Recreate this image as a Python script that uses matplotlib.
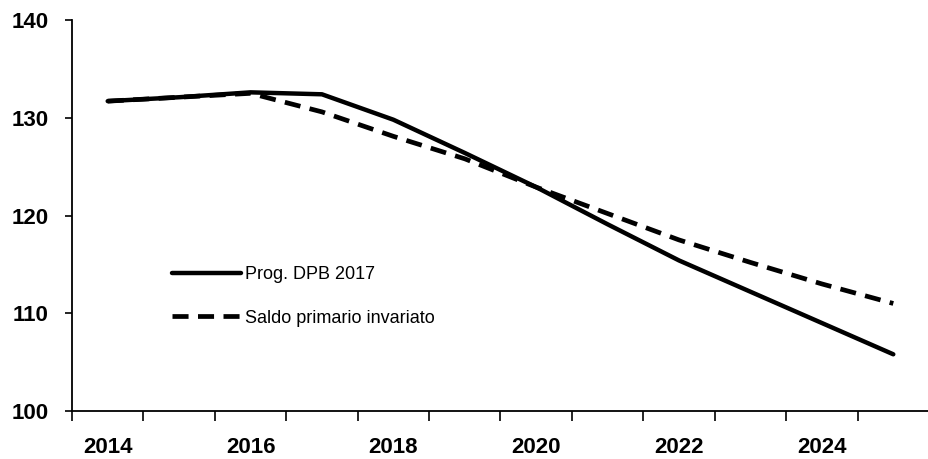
import numpy as np
import matplotlib.pyplot as plt

# data
years = [2014, 2015, 2016, 2017, 2018, 2019, 2020, 2021, 2022, 2023, 2024, 2025]
prog_dpb = [131.7, 132.1, 132.6, 132.4, 129.8, 126.4, 122.9, 119.1, 115.4, 112.2, 109.0, 105.8]
saldo_inv = [131.7, 132.1, 132.5, 130.6, 128.1, 125.8, 122.9, 120.2, 117.5, 115.2, 113.0, 111.0]
xlabels = [2014, 2016, 2018, 2020, 2022, 2024]
yticks = [100, 110, 120, 130, 140]

font = 'Liberation Sans'

fig = plt.figure(figsize=(9.29, 4.59), dpi=100)
ax = fig.add_axes([0.0775, 0.1046, 0.9225, 0.8518])

ax.plot(years, prog_dpb, color='black', lw=3.2, solid_capstyle='round',
        label='Prog. DPB 2017')
ax.plot(years, saldo_inv, color='black', lw=3.4, dashes=(3.4, 2.0),
        dash_capstyle='butt', label='Saldo primario invariato')

ax.set_xlim(2013.5, 2025.5)
ax.set_ylim(100, 140)

ax.spines['top'].set_visible(False)
ax.spines['right'].set_visible(False)
for s in ['left', 'bottom']:
    ax.spines[s].set_linewidth(1.3)

ax.set_yticks(yticks)
ax.set_yticklabels([str(v) for v in yticks], fontfamily=font,
                   fontweight='bold', fontsize=16)
ax.set_xticks(xlabels)
ax.set_xticklabels([str(v) for v in xlabels], fontfamily=font,
                   fontweight='bold', fontsize=16)
ax.set_xticks(np.arange(2013.5, 2025.6, 1.0), minor=True)
ax.tick_params(axis='x', which='major', length=0, pad=19)
ax.tick_params(axis='x', which='minor', length=7, width=1.2, direction='out')
ax.tick_params(axis='y', which='major', length=5, width=1.2, direction='out', pad=12)

ax.legend(loc='upper left', bbox_to_anchor=(0.117, 0.37), frameon=False,
          borderpad=0, borderaxespad=0, handlelength=3.8, handletextpad=0.25,
          labelspacing=1.45, prop={'family': font, 'size': 13})

plt.savefig('out.png', dpi=100)
